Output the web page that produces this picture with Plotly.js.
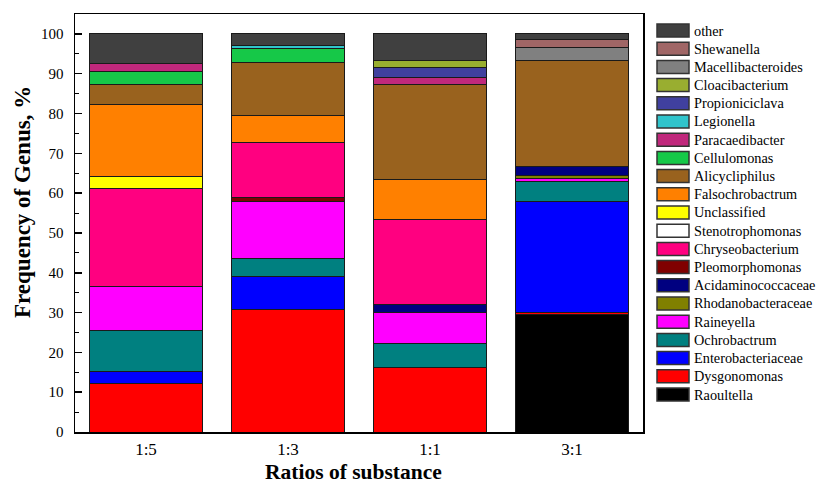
<!DOCTYPE html>
<html>
<head>
<meta charset="utf-8">
<script src="https://cdn.plot.ly/plotly-3.0.1.min.js"></script>
<style>
html,body{margin:0;padding:0;background:#fff;}
#chart{width:816px;height:486px;}
</style>
</head>
<body>
<div id="chart"></div>
<script>
// Categories
const ratios = ['1:5', '1:3', '1:1', '3:1'];

// Series values (% per ratio), bottom-up stacking order
const raoultella         = [0,    0,    0,    29.4];
const dysgonomonas       = [12.2, 30.8, 16.3, 0.6];
const enterobacteriaceae = [3.0,  8.2,  0,    28.0];
const ochrobactrum       = [10.3, 4.6,  6.0,  4.9];
const raineyella         = [11.0, 14.3, 7.7,  0.8];
const rhodanobacteraceae = [0,    0,    0,    0.7];
const acidaminococcaceae = [0,    0,    2.1,  2.3];
const pleomorphomonas    = [0,    1.0,  0,    0];
const chryseobacterium   = [24.7, 13.9, 21.2, 0];
const stenotrophomonas   = [0,    0,    0,    0];
const unclassified       = [3.0,  0,    0,    0];
const falsochrobactrum   = [18.1, 6.6,  10.2, 0];
const alicycliphilus     = [4.9,  13.4, 23.9, 26.6];
const cellulomonas       = [3.4,  3.6,  0,    0];
const paracaedibacter    = [2.0,  0,    1.7,  0];
const legionella         = [0,    0.8,  0,    0];
const propioniciclava    = [0,    0,    2.5,  0];
const cloacibacterium    = [0,    0,    1.7,  0];
const macellibacteroides = [0,    0,    0,    3.3];
const shewanella         = [0,    0,    0,    1.9];
const other              = [7.4,  2.8,  6.7,  1.5];

// Genus names (bottom-up)
const genera = ['Raoultella','Dysgonomonas','Enterobacteriaceae','Ochrobactrum','Raineyella',
  'Rhodanobacteraceae','Acidaminococcaceae','Pleomorphomonas','Chryseobacterium','Stenotrophomonas',
  'Unclassified','Falsochrobactrum','Alicycliphilus','Cellulomonas','Paracaedibacter','Legionella',
  'Propioniciclava','Cloacibacterium','Macellibacteroides','Shewanella','other'];
const seriesValues = [raoultella, dysgonomonas, enterobacteriaceae, ochrobactrum, raineyella,
  rhodanobacteraceae, acidaminococcaceae, pleomorphomonas, chryseobacterium, stenotrophomonas,
  unclassified, falsochrobactrum, alicycliphilus, cellulomonas, paracaedibacter, legionella,
  propioniciclava, cloacibacterium, macellibacteroides, shewanella, other];
const colors = ['#000000','#ff0000','#0000ff','#008080','#ff00ff',
  '#808000','#000080','#800000','#ff0080','#ffffff',
  '#ffff00','#ff8000','#99621e','#16c848','#c0287c','#30c4cc',
  '#40409f','#99ae30','#808080','#a06666','#404040'];

const yTicks = [0,10,20,30,40,50,60,70,80,90,100];

const traces = genera.map((g, i) => ({
  type: 'bar',
  name: g,
  x: ratios,
  y: seriesValues[i],
  marker: {color: colors[i], line: {color: '#1a1a1a', width: 1}},
  showlegend: false,
  hoverinfo: 'name+y'
}));

// plot geometry (pixels)
const L = 75, R = 643, T = 14, B = 432;
const W = 816, H = 486;
const px2x = p => (p - L) / (R - L);
const px2y = p => (B - p) / (B - T);
const serif = 'Liberation Serif, Times New Roman, serif';

const shapes = [];
const annotations = [];
// custom legend (top-down: reverse of stacking order)
const legOrder = genera.map((g, i) => i).reverse();
legOrder.forEach((idx, k) => {
  const cy = 30.5 + k * 18.2;
  shapes.push({
    type: 'rect', xref: 'paper', yref: 'paper',
    x0: px2x(657), x1: px2x(689), y0: px2y(cy + 6.5), y1: px2y(cy - 6.5),
    fillcolor: colors[idx], line: {color: '#333333', width: 1.5}
  });
  annotations.push({
    xref: 'paper', yref: 'paper', x: px2x(692), y: px2y(cy),
    xanchor: 'left', yanchor: 'middle', showarrow: false,
    text: genera[idx],
    font: {family: serif, size: 14.3, color: '#000'}
  });
});

// axis titles
annotations.push({
  xref: 'paper', yref: 'paper', x: px2x(353), y: px2y(486),
  xanchor: 'center', yanchor: 'bottom', showarrow: false,
  text: '<b>Ratios of substance</b>',
  font: {family: serif, size: 21.5, color: '#000'}
});
annotations.push({
  xref: 'paper', yref: 'paper', x: px2x(22), y: px2y(202),
  xanchor: 'center', yanchor: 'middle', showarrow: false, textangle: -90,
  text: '<b>Frequency of Genus, %</b>',
  font: {family: serif, size: 23, color: '#000'}
});

const layout = {
  width: W, height: H,
  margin: {l: L, r: W - R, t: T, b: H - B, pad: 0},
  paper_bgcolor: '#ffffff',
  plot_bgcolor: '#ffffff',
  barmode: 'stack',
  bargap: 0.2,
  showlegend: false,
  font: {family: serif, color: '#000'},
  xaxis: {
    type: 'category',
    categoryorder: 'array', categoryarray: ratios,
    range: [-0.5, 3.5],
    showline: true, linecolor: '#000', linewidth: 1.5, mirror: true,
    ticks: '', showgrid: false, zeroline: false,
    tickfont: {size: 17, family: serif, color: '#000'},
    ticklabelstandoff: 1
  },
  yaxis: {
    range: [0, 105],
    tickvals: yTicks, ticktext: yTicks.map(String),
    showline: true, linecolor: '#000', linewidth: 1.5, mirror: true,
    ticks: 'inside', ticklen: 7, tickwidth: 1.5, tickcolor: '#000',
    minor: {dtick: 5, tick0: 0, ticks: 'inside', ticklen: 4, tickwidth: 1, tickcolor: '#000', showgrid: false},
    showgrid: false, zeroline: false,
    tickfont: {size: 15, family: serif, color: '#000'},
    ticklabelstandoff: 7
  },
  shapes: shapes,
  annotations: annotations
};

Plotly.newPlot('chart', traces, layout, {staticPlot: true, displayModeBar: false});
</script>
</body>
</html>
